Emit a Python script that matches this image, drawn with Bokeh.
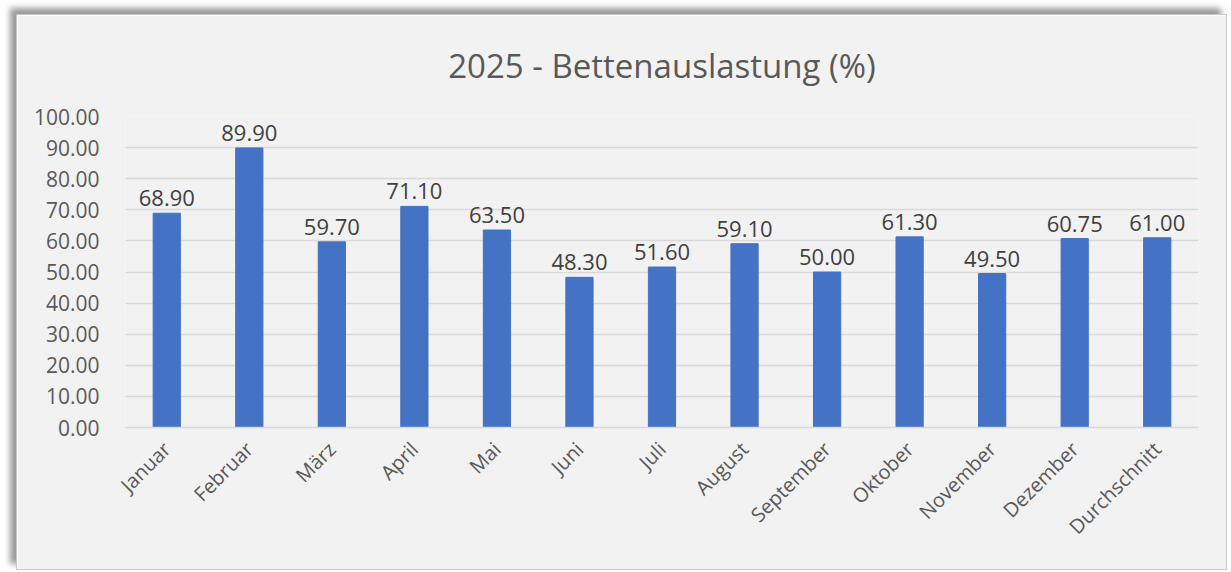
from bokeh.plotting import figure
from bokeh.models import ColumnDataSource, PrintfTickFormatter, FixedTicker, Range1d
from bokeh.embed import file_html
from bokeh.resources import INLINE
from bokeh.core.properties import value

months = ["Januar", "Februar", "März", "April", "Mai", "Juni", "Juli", "August",
          "September", "Oktober", "November", "Dezember", "Durchschnitt"]
occupancy = [68.90, 89.90, 59.70, 71.10, 63.50, 48.30, 51.60, 59.10, 50.00, 61.30, 49.50, 60.75, 61.00]
y_ticks = [0, 10, 20, 30, 40, 50, 60, 70, 80, 90, 100]
title_text = "2025 - Bettenauslastung (%)"

FONT = "Open Sans"
src = ColumnDataSource(dict(m=months, v=occupancy, lbl=[f"{x:.2f}" for x in occupancy]))

p = figure(x_range=months, y_range=Range1d(0, 100), width=1211, height=556,
           output_backend="svg", toolbar_location=None,
           min_border_left=108, min_border_right=30, min_border_top=96, min_border_bottom=144)
p.margin = (14, 0, 0, 16)

p.title.text = title_text
p.title.align = "center"
p.title.vertical_align = "top"
p.title.offset = -39
p.title.text_font = FONT
p.title.text_font_size = "33px"
p.title.text_font_style = "normal"
p.title.text_color = "#595959"
p.title.text_line_height = 1.0
p.title.standoff = 54

p.background_fill_color = "#f2f2f2"
p.border_fill_color = "#f2f2f2"
p.outline_line_color = None

p.vbar(x="m", top="v", width=0.33, source=src, color="#4472c4")
p.text(x="m", y="v", text="lbl", source=src, text_align="center", text_baseline="alphabetic",
       y_offset=-15, text_font=value(FONT), text_font_size="22px", text_color="#404040")

p.yaxis.ticker = FixedTicker(ticks=y_ticks)
p.yaxis.formatter = PrintfTickFormatter(format="%.2f")
p.yaxis.axis_line_color = None
p.yaxis.major_tick_line_color = None
p.yaxis.minor_tick_line_color = None
p.yaxis.major_label_text_font = FONT
p.yaxis.major_label_text_font_size = "21px"
p.yaxis.major_label_text_color = "#595959"
p.yaxis.major_label_standoff = 20

p.xaxis.axis_line_color = "#d9d9d9"
p.xaxis.axis_line_width = 1.5
p.xaxis.major_tick_line_color = None
p.xaxis.minor_tick_line_color = None
p.xaxis.major_label_orientation = 0.785398
p.xaxis.major_label_text_font = FONT
p.xaxis.major_label_text_font_size = "20px"
p.xaxis.major_label_text_color = "#595959"
p.xaxis.major_label_standoff = 12

p.xgrid.grid_line_color = None
p.ygrid.grid_line_color = "#d9d9d9"
p.ygrid.grid_line_width = 1.5

p.styles = {"border": "1px solid #c8c8c8",
            "box-shadow": "-6px -6px 6px #9a9a9a"}

open("out.html", "w").write(file_html(p, INLINE))
